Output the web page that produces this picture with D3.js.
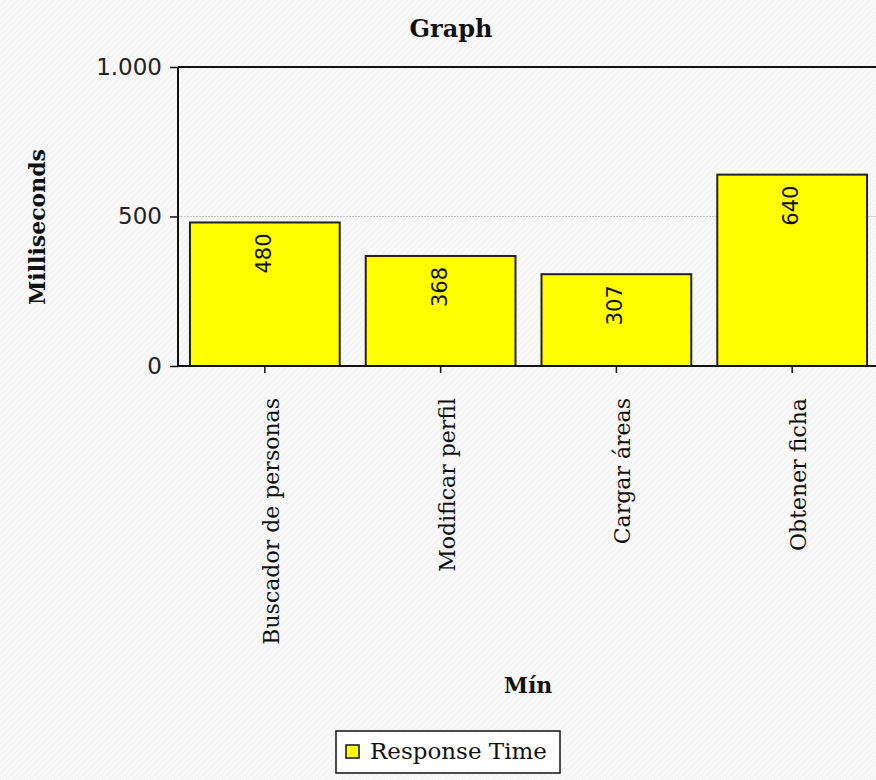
<!DOCTYPE html>
<html>
<head>
<meta charset="utf-8">
<script src="https://cdn.jsdelivr.net/npm/d3@7"></script>
<style>
  html, body { margin: 0; padding: 0; background: #f8f8f8; }
  svg { display: block; }
</style>
</head>
<body>
<svg id="chart" width="876" height="780"></svg>
<script>
// Response times per operation (ms)
const categories = ["Buscador de personas", "Modificar perfil", "Cargar áreas", "Obtener ficha"];
const responseTime = [480, 368, 307, 640];
const yTicks = [0, 500, 1000];
const seriesName = "Response Time";

const W = 876, H = 780;
const plot = { left: 178, top: 67, right: 879, bottom: 366 };

const svg = d3.select("#chart");

// faint diagonal hatch background
const defs = svg.append("defs");
const pat = defs.append("pattern")
  .attr("id", "hatch").attr("width", 6).attr("height", 6)
  .attr("patternUnits", "userSpaceOnUse");
pat.append("rect").attr("width", 6).attr("height", 6).attr("fill", "#f8f8f8");
pat.append("path").attr("d", "M0,6 L6,0 M-1,1 L1,-1 M5,7 L7,5")
  .attr("stroke", "#efefef").attr("stroke-width", 1);
svg.append("rect").attr("width", W).attr("height", H).attr("fill", "url(#hatch)");

const x = d3.scaleBand()
  .domain(categories)
  .range([plot.left, plot.right])
  .paddingInner(0.148)
  .paddingOuter(0.068);

const y = d3.scaleLinear()
  .domain([0, 1000])
  .range([plot.bottom, plot.top]);

const fmt = v => d3.format(",")(v).replace(/,/g, ".");

// grid line
svg.append("g").selectAll("line")
  .data(yTicks.filter(t => t > 0 && t < 1000))
  .join("line")
  .attr("x1", plot.left).attr("x2", W)
  .attr("y1", d => y(d)).attr("y2", d => y(d))
  .attr("stroke", "#c4c4c4").attr("stroke-width", 1)
  .attr("stroke-dasharray", "2,1");

// bars
svg.append("g").selectAll("rect")
  .data(responseTime)
  .join("rect")
  .attr("x", (d, i) => x(categories[i]))
  .attr("y", d => y(d))
  .attr("width", x.bandwidth())
  .attr("height", d => y(0) - y(d))
  .attr("fill", "#ffff00")
  .attr("stroke", "#222")
  .attr("stroke-width", 2);

// value labels inside bars, rotated
svg.append("g").selectAll("text")
  .data(responseTime)
  .join("text")
  .attr("transform", (d, i) => `translate(${x(categories[i]) + x.bandwidth() / 2 + 6},${y(d) + 11}) rotate(-90)`)
  .attr("text-anchor", "end")
  .attr("font-family", "DejaVu Sans, sans-serif")
  .attr("font-size", 21)
  .attr("fill", "#111")
  .text(d => d);

// top frame line
svg.append("line")
  .attr("x1", plot.left).attr("x2", W)
  .attr("y1", plot.top).attr("y2", plot.top)
  .attr("stroke", "#111").attr("stroke-width", 2);

// y axis
const yAxis = svg.append("g")
  .attr("transform", `translate(${plot.left},0)`)
  .call(d3.axisLeft(y).tickValues(yTicks).tickSize(8).tickPadding(8).tickFormat(fmt));
yAxis.select(".domain").attr("stroke", "#111").attr("stroke-width", 2)
  .attr("d", `M0,${plot.top}V${plot.bottom}`);
yAxis.selectAll(".tick line").attr("stroke", "#111").attr("stroke-width", 1.5);
yAxis.selectAll(".tick text")
  .attr("font-family", "DejaVu Sans, sans-serif")
  .attr("font-size", 23).attr("fill", "#222");

// x axis
const xAxis = svg.append("g")
  .attr("transform", `translate(0,${plot.bottom})`)
  .call(d3.axisBottom(x).tickSize(7).tickPadding(0));
xAxis.select(".domain").attr("stroke", "#111").attr("stroke-width", 2)
  .attr("d", `M${plot.left},0H${W}`);
xAxis.selectAll(".tick line").attr("stroke", "#111").attr("stroke-width", 1.5);
xAxis.selectAll(".tick text")
  .attr("font-family", "DejaVu Serif, serif")
  .attr("font-size", 22).attr("fill", "#111")
  .attr("text-anchor", "end")
  .attr("dy", null)
  .attr("transform", "translate(7,32) rotate(-90)");

// titles
svg.append("text")
  .attr("x", 451).attr("y", 37)
  .attr("text-anchor", "middle")
  .attr("font-family", "DejaVu Serif, serif").attr("font-weight", "bold")
  .attr("font-size", 24).attr("fill", "#111")
  .text("Graph");

svg.append("text")
  .attr("transform", `translate(45,227) rotate(-90)`)
  .attr("text-anchor", "middle")
  .attr("font-family", "DejaVu Serif, serif").attr("font-weight", "bold")
  .attr("font-size", 22).attr("fill", "#111")
  .text("Milliseconds");

svg.append("text")
  .attr("x", 528).attr("y", 693)
  .attr("text-anchor", "middle")
  .attr("font-family", "DejaVu Serif, serif").attr("font-weight", "bold")
  .attr("font-size", 22).attr("fill", "#111")
  .text("Mín");

// legend
const lg = svg.append("g").attr("transform", "translate(336,731)");
lg.append("rect").attr("width", 224).attr("height", 42)
  .attr("fill", "#fff").attr("stroke", "#111").attr("stroke-width", 1.5);
lg.append("rect").attr("x", 10).attr("y", 14).attr("width", 13).attr("height", 13)
  .attr("fill", "#ffff00").attr("stroke", "#111").attr("stroke-width", 1.5);
lg.append("text").attr("x", 34).attr("y", 28)
  .attr("font-family", "DejaVu Serif, serif")
  .attr("font-size", 23).attr("fill", "#111")
  .text(seriesName);
</script>
</body>
</html>
